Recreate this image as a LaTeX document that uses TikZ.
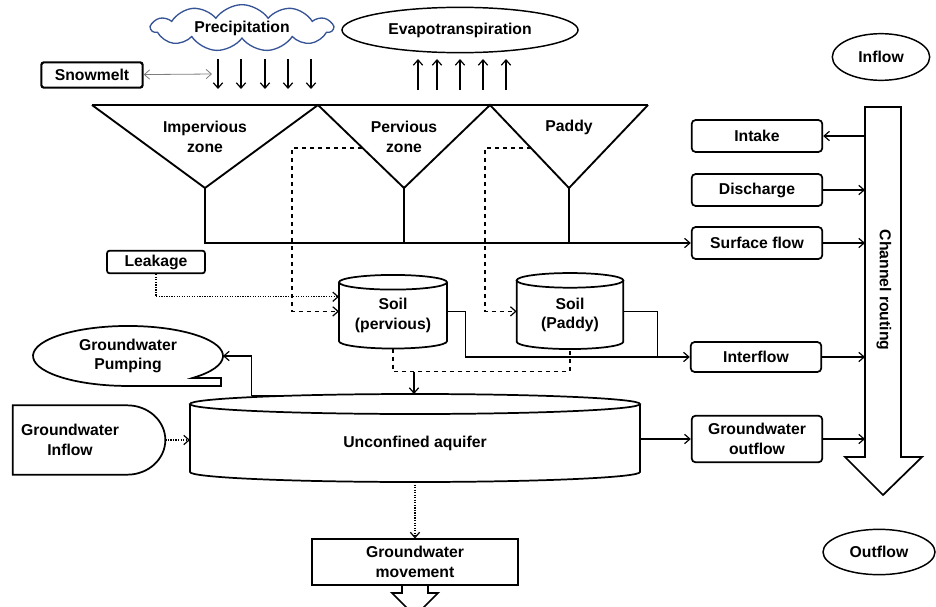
\documentclass[tikz,border=0pt]{standalone}
\usepackage{fontspec}
\setmainfont{Liberation Sans}
\usetikzlibrary{arrows.meta, shapes.geometric, shapes.symbols, calc}

\definecolor{cloudblue}{RGB}{55,85,150}
\definecolor{snowgray}{RGB}{125,125,125}

% outline of a storage tank round a named node (node top = centre of the lid): node, x radius, y radius
\newcommand{\tankdraw}[3]{%
  \draw[tankline] (#1.north west) -- ([yshift=#3]#1.south west)
    arc[start angle=180, end angle=360, x radius=#2, y radius=#3]
    -- (#1.north east);
  \draw[tankline] (#1.north) ellipse[x radius=#2, y radius=#3];
}

\begin{document}
\begin{tikzpicture}[x=0.75pt, y=-0.75pt, >={Straight Barb[length=4pt,width=7pt]},
  every node/.style={font=\fontsize{11.8}{14.5}\selectfont\bfseries, align=center, inner sep=1pt},
  box/.style={draw, rounded corners=3pt, line width=1.3pt, minimum width=98pt, minimum height=24pt},
  oval/.style={draw, ellipse, line width=1.1pt},
  tank/.style={inner sep=0pt, outer sep=0pt},
  zone/.style={line width=1.4pt},
  tankline/.style={line width=1.3pt},
  flow/.style={line width=0.9pt},
  seep/.style={flow, dashed},
  leak/.style={flow, densely dotted}]
\useasboundingbox (0,0) rectangle (936,607);
\clip (0,0) rectangle (936,607);

% atmosphere
\node[cloud, cloud puffs=11, cloud puff arc=110, cloud ignores aspect, draw=cloudblue,
  line width=1pt, minimum width=136pt, minimum height=35pt] (precip) at (242,28) {Precipitation};
\node[oval, minimum width=177pt, minimum height=34pt] (evapo) at (460,30) {Evapotranspiration};
\node[box, rounded corners=2pt, line width=1.6pt, minimum width=76pt, minimum height=19pt] (snow) at (92,75) {Snowmelt};
\coordinate (melt) at (212,74);
\draw[flow, snowgray, line width=0.6pt, <->] (snow) -- (melt);

\foreach \x in {218,241,265,288,311}
  \draw[flow, ->] (\x,59) -- (\x,89);
\foreach \x in {418,437,460,483,506}
  \draw[flow, ->] (\x,90) -- (\x,59);

% land use zones
\coordinate (imptip) at (205,188);
\coordinate (pervtip) at (404,188);
\coordinate (padtip) at (569,188);
\draw[zone] (92,105) -- (648,105);
\draw[zone] (92,105) -- (imptip) -- (318,105) -- (pervtip) -- (490,105) -- (padtip) -- (648,105);
\node (imp) at (205,137) {Impervious\\zone};
\node (perv) at (404,137) {Pervious\\zone};
\node (paddy) at (569,127) {Paddy};

% channel
\node[oval, minimum width=73pt, minimum height=35pt] (inflow) at (881,57) {Inflow};
\node[oval, minimum width=84pt, minimum height=34pt] (outflow) at (879,552) {Outflow};
\draw[line width=1.3pt] (865,107) -- (901,107) -- (901,457) -- (922,457) -- (883,495)
  -- (845,457) -- (865,457) -- cycle;
\node[tank, minimum width=27pt, minimum height=262pt] (chan) at (883,282) {};
\node[rotate=-90] (chanlbl) at (884,290) {Channel routing};

\node[box] (intake) at (757,136) {Intake};
\node[box] (disc) at (757,190) {Discharge};
\node[box] (surf) at (757,243) {Surface flow};
\node[box, minimum height=22.5pt] (inter) at (756,357) {Interflow};
\node[box, minimum height=35pt] (gwout) at (757,439) {Groundwater\\outflow};

\draw[flow, ->] (intake -| chan.west) -- (intake.east);
\foreach \b in {disc, surf, inter, gwout}
  \draw[flow, ->] (\b.east) -- (\b -| chan.west);

% surface runoff
\draw[flow, ->] (imptip) |- (surf.west);
\draw[flow] (pervtip) -- (pervtip |- surf.west);
\draw[flow] (padtip) -- (padtip |- surf.west);

% soil layers
\node[tank, minimum width=81pt, minimum height=49.7pt] (soilp) at (393,315.4) {Soil\\(pervious)};
\node[tank, minimum width=80pt, minimum height=51.5pt] (soild) at (570,314.7) {Soil\\(Paddy)};
\tankdraw{soilp}{40.5pt}{5.5pt}
\tankdraw{soild}{40pt}{5.5pt}

\node[box, rounded corners=2pt, minimum width=73.5pt, minimum height=17pt] (leak) at (156,262) {Leakage};
\draw[leak, ->] (leak.south) |- ([yshift=14pt]soilp.west);

\coordinate (pervseep) at (362,148);
\coordinate (padseep) at (531,148);
\draw[seep, ->] (pervseep) -- (292,148) |- ([yshift=3pt]soilp.west);
\draw[seep, ->] (padseep) -- (485,148) |- ([yshift=2.5pt]soild.west);

\draw[flow, ->] ([yshift=3pt]soilp.east) -- ++(14pt,0) |- (inter.west);
\draw[flow] ([yshift=2.5pt]soild.east) -| ([xshift=-24pt]inter.west);

% aquifer
\node[tank, minimum width=337.5pt, minimum height=58.5pt] (aq) at (415,443) {Unconfined aquifer};
\tankdraw{aq}{168.75pt}{7.5pt}
\coordinate (aqtop) at ([yshift=7.5pt]aq.north);

\draw[seep] (soilp.south) -- ++(0,-17pt) -| (soild.south);
\coordinate (perc) at (414,372);
\draw[flow, ->] (perc) -- (perc |- aqtop);

\node[ellipse, minimum width=142pt, minimum height=45pt, inner sep=0pt] (pump) at (128,356) {Groundwater\\Pumping};
\draw[tankline] (192.8,377.9) arc[start angle=-47, end angle=270, x radius=71.25pt, y radius=22.5pt]
  -- (221,386) -- (221,378) -- cycle;
\draw[flow, ->] ([xshift=71pt, yshift=6.5pt]aq.north west) -- ++(-25pt,0) |- (pump.east);

\node[tank, minimum width=86pt, minimum height=52pt] (gwin) at (70,440) {Groundwater\\Inflow};
\draw[tankline] (gwin.north west) -- (gwin.north east)
  arc[start angle=90, end angle=-90, x radius=28.5pt, y radius=26pt] -- (gwin.south west) -- cycle;
\coordinate (gwinnose) at ([xshift=28.5pt]gwin.east);
\draw[leak, ->] (gwinnose) -- (gwinnose -| aq.west);

\draw[flow, ->] (gwout -| aq.east) -- (gwout.west);

\node[draw, line width=1.3pt, minimum width=154.5pt, minimum height=34pt] (gwmove) at (415,562) {Groundwater\\movement};
\draw[leak, ->] (aq.south) -- (gwmove.north);
\draw[tankline] (402,585) -- (402,593) -- (392,593) -- (415,616) -- (438,593) -- (428,593) -- (428,585);

\end{tikzpicture}
\end{document}
